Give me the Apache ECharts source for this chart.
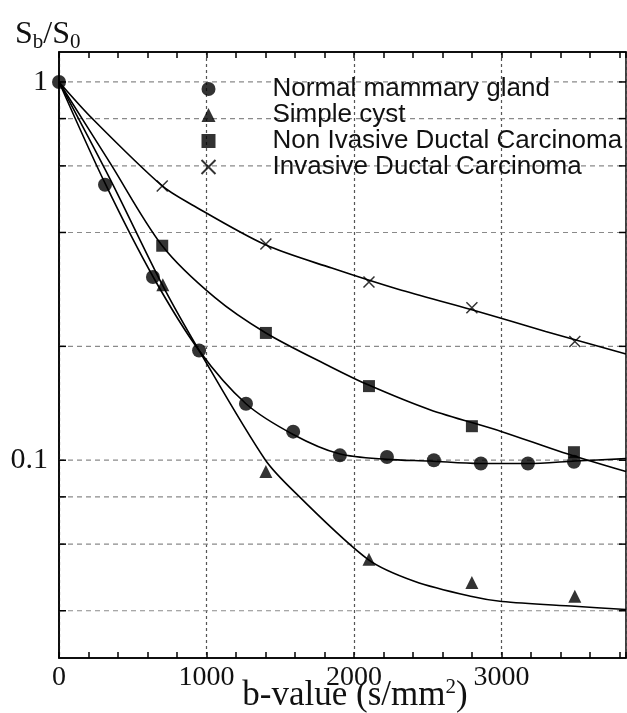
<!DOCTYPE html>
<html>
<head>
<meta charset="utf-8">
<script src="https://cdn.jsdelivr.net/npm/echarts@6/dist/echarts.min.js"></script>
<style>html,body{margin:0;padding:0;background:#fff}#chart{width:627px;height:713px}</style>
</head>
<body>
<div id="chart"></div>
<script>
var names = ['Normal mammary gland', 'Simple cyst', 'Non Ivasive Ductal Carcinoma', 'Invasive Ductal Carcinoma'];
// measured points [b-value, Sb/S0]
var normalPts = [[0, 1], [312, 0.535], [637, 0.305], [950, 0.195], [1268, 0.141], [1588, 0.119], [1905, 0.103], [2224, 0.102], [2542, 0.100], [2861, 0.098], [3180, 0.098], [3492, 0.099]];
var cystPts = [[704, 0.291], [1403, 0.0933], [2102, 0.0547], [2800, 0.0475], [3498, 0.0437]];
var nonInvPts = [[700, 0.369], [1403, 0.217], [2102, 0.157], [2800, 0.123], [3492, 0.105]];
var invPts = [[700, 0.531], [1403, 0.373], [2102, 0.296], [2800, 0.253], [3498, 0.206]];
// fitted curves
var normalFit = [[0, 1], [312, 0.54], [637, 0.306], [950, 0.195], [1268, 0.141], [1588, 0.117], [1900, 0.104], [2224, 0.1005], [2515, 0.0995], [2850, 0.098], [3180, 0.098], [3500, 0.0995], [3845, 0.101]];
var cystFit = [[0, 1], [350, 0.55], [700, 0.291], [950, 0.195], [1397, 0.1004], [1600, 0.0822], [2095, 0.0547], [2414, 0.0478], [2800, 0.0436], [3003, 0.0423], [3498, 0.0411], [3845, 0.0403]];
var nonInvFit = [[0, 1], [346, 0.611], [700, 0.369], [1058, 0.269], [1403, 0.217], [1837, 0.177], [2100, 0.158], [2515, 0.136], [3003, 0.119], [3417, 0.1048], [3845, 0.0933]];
var invFit = [[0, 1], [226, 0.80], [700, 0.531], [904, 0.473], [1400, 0.371], [1850, 0.322], [2300, 0.283], [2800, 0.250], [3300, 0.219], [3845, 0.191]];
var yGrid = [0.04, 0.06, 0.08, 0.1, 0.2, 0.4, 0.6, 0.8, 1];
var xMin = 0, xMax = 3845, yMin = 0.03, yMax = 1.2;

var serif = '"Liberation Serif", "DejaVu Serif", serif';
var sans = '"Liberation Sans", Arial, sans-serif';

function fitLine(data) {
	return {
		type: 'line',
		data: data,
		smooth: 0.3,
		showSymbol: false,
		silent: true,
		z: 2,
		lineStyle: { color: '#000', width: 1.6 }
	};
}

function points(name, data, symbol, size, style) {
	return {
		type: 'scatter',
		name: name,
		data: data,
		symbol: symbol,
		symbolSize: size,
		z: 3,
		itemStyle: style || { color: '#000' }
	};
}

var chart = echarts.init(document.getElementById('chart'));
chart.setOption({
	animation: false,
	backgroundColor: '#fff',
	title: {
		text: '{a|S}{b|b}{a|/S}{b|0}',
		left: 10,
		top: 12,
		textStyle: {
			rich: {
				a: { fontFamily: serif, fontSize: 32, fontWeight: 'normal', color: '#111' },
				b: { fontFamily: serif, fontSize: 21, fontWeight: 'normal', color: '#111', padding: [15, 0, 0, 0] }
			}
		}
	},
	legend: {
		orient: 'vertical',
		left: 194,
		top: 71,
		itemGap: 0,
		itemWidth: 14,
		itemHeight: 14,
		data: names,
		selectedMode: false,
		textStyle: { fontFamily: sans, fontSize: 26, color: '#111', lineHeight: 25.7, padding: [0, 0, 0, 52] }
	},
	grid: { left: 59, top: 52, right: 1, bottom: 55, outerBoundsMode: 'none', containLabel: false, show: true, borderColor: '#000', borderWidth: 1.5 },
	xAxis: [{
		type: 'value',
		min: xMin,
		max: xMax,
		interval: 1000,
		position: 'bottom',
		axisLine: { lineStyle: { color: '#000', width: 1.5 } },
		axisTick: { show: false },
		axisLabel: { fontFamily: serif, fontSize: 28, color: '#111', margin: 6, showMaxLabel: false, formatter: function(v) { return String(v); } },
		splitLine: { show: true, lineStyle: { color: '#555', width: 1.2, type: [3, 3] } },
		name: 'b-value (s/mm{sup|2})',
		nameLocation: 'middle',
		nameGap: 19,
		nameMoveOverlap: false,
		nameTextStyle: {
			fontFamily: serif, fontSize: 35, color: '#111', padding: [0, 0, 0, 25],
			rich: { sup: { fontFamily: serif, fontSize: 21, color: '#111', padding: [0, 0, 16, 0] } }
		}
	}, {
		type: 'value',
		min: xMin,
		max: xMax,
		interval: 200,
		position: 'bottom',
		axisLine: { show: false },
		axisTick: { show: true, inside: true, length: 6, lineStyle: { color: '#000', width: 1.5 } },
		axisLabel: { show: false },
		splitLine: { show: false }
	}, {
		type: 'value',
		min: xMin,
		max: xMax,
		interval: 200,
		position: 'top',
		axisLine: { show: true, lineStyle: { color: '#000', width: 1.5 } },
		axisTick: { show: true, inside: true, length: 6, lineStyle: { color: '#000', width: 1.5 } },
		axisLabel: { show: false },
		splitLine: { show: false }
	}],
	yAxis: {
		type: 'log',
		min: yMin,
		max: yMax,
		axisLine: { show: true, lineStyle: { color: '#000', width: 1.5 } },
		axisTick: { show: false },
		splitLine: { show: false },
		axisLabel: {
			fontFamily: serif, fontSize: 30, color: '#111', margin: 11,
			showMinLabel: false, showMaxLabel: false,
			formatter: function(v) {
				var e = Math.log(v) / Math.LN10;
				if(Math.abs(e - Math.round(e)) < 1e-6) return String(+v.toPrecision(3));
				return '';
			}
		}
	},
	series: [{
		type: 'custom',
		silent: true,
		z: 1,
		data: yGrid.map(function(v) { return [xMin, v]; }),
		renderItem: function(params, api) {
			var v = api.value(1);
			var a = api.coord([xMin, v]), b = api.coord([xMax, v]);
			return {
				type: 'group',
				children: [
					{ type: 'line', shape: { x1: a[0], y1: a[1], x2: b[0], y2: b[1] }, style: { stroke: '#8a8a8a', lineWidth: 1.2, lineDash: [5, 4] } },
					{ type: 'line', shape: { x1: a[0], y1: a[1], x2: a[0] + 7, y2: a[1] }, style: { stroke: '#000', lineWidth: 1.5 } },
					{ type: 'line', shape: { x1: b[0] - 7, y1: b[1], x2: b[0], y2: b[1] }, style: { stroke: '#000', lineWidth: 1.5 } }
				]
			};
		}
	},
		fitLine(normalFit),
		fitLine(cystFit),
		fitLine(nonInvFit),
		fitLine(invFit),
		points(names[0], normalPts, 'circle', 14),
		points(names[1], cystPts, 'triangle', 13),
		points(names[2], nonInvPts, 'rect', 12),
		points(names[3], invPts, 'path://M0,0L10,10M10,0L0,10', 11, { color: 'none', borderColor: '#000', borderWidth: 1.5 })
	]
});
</script>
</body>
</html>
